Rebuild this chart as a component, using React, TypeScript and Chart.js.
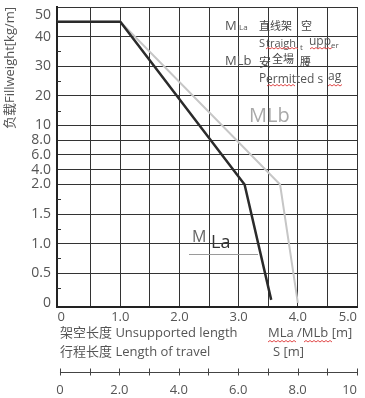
import React, { useEffect, useRef } from 'react';
import { Chart, registerables, LinearScale } from 'chart.js';

// ---------- data ----------
const X_MIN = -0.07;
const X_MAX = 5;
const Y_MIN = -0.07;
const Y_MAX = 50;

const MLA_X = [X_MIN, 1.0, 3.1, 3.55];
const MLA_Y = [45, 45, 2.0, 0.05];
const MLB_X = [X_MIN, 1.0, 3.7, 4.0];
const MLB_Y = [45, 45, 2.0, 0];

const Y_TICKS = [0, 0.5, 1, 1.5, 2, 4, 6, 8, 10, 20, 30, 40, 50];
const Y_LABELS = ['0', '0.5', '1.0', '1.5', '2.0', '4.0', '6.0', '8.0', '10', '20', '30', '40', '50'];
// relative spacing of the tick values along the (segmented) fill-weight axis
const Y_STEPS = [0, 1, 2, 3, 4, 4.5, 5, 5.5, 6, 7, 8, 9, 10];
const Y_MINOR = [35, 25, 15, 1.75, 1.25, 0.75, 0.25];

const X_TICKS = [0, 0.5, 1, 1.5, 2, 2.5, 3, 3.5, 4, 4.5, 5];
const X_LABELS = ['0', '', '1.0', '', '2.0', '', '3.0', '', '4.0', '', '5.0'];

const S_MIN = -0.1;
const S_MAX = 10;
const S_TICKS = [0, 1, 2, 3, 4, 5, 6, 7, 8, 9, 10];
const S_LABELS = ['0', '', '2.0', '', '4.0', '', '6.0', '', '8.0', '', '10'];

// ---------- styles ----------
const FONT = "'Open Sans', 'Noto Sans CJK SC', sans-serif";
const CJK = "'Noto Sans CJK SC', 'Open Sans', sans-serif";
const GRID = '#333333';
const AXIS = '#222222';
const TEXT = '#555555';
const DARK = '#2b2b2b';
const LIGHT = '#c6c6c6';

function toUnit(v: number): number {
  const b = Y_TICKS, s = Y_STEPS;
  let i = 1;
  while (i < b.length - 1 && v > b[i]) i++;
  const t = (v - b[i - 1]) / (b[i] - b[i - 1]);
  return s[i - 1] + t * (s[i] - s[i - 1]);
}
function fromUnit(u: number): number {
  const b = Y_TICKS, s = Y_STEPS;
  let i = 1;
  while (i < s.length - 1 && u > s[i]) i++;
  const t = (u - s[i - 1]) / (s[i] - s[i - 1]);
  return b[i - 1] + t * (b[i] - b[i - 1]);
}

class SegmentedScale extends LinearScale {
  static id = 'segmented';
  static defaults = LinearScale.defaults;
  getPixelForValue(value: any) {
    if (value === null || value === undefined || isNaN(value)) return NaN;
    const u0 = toUnit((this as any).min), u1 = toUnit((this as any).max);
    return (this as any).getPixelForDecimal((toUnit(value) - u0) / (u1 - u0));
  }
  getValueForPixel(pixel: number) {
    const u0 = toUnit((this as any).min), u1 = toUnit((this as any).max);
    return fromUnit(u0 + (this as any).getDecimalForPixel(pixel) * (u1 - u0));
  }
}

Chart.register(...registerables, SegmentedScale as any);

function squiggle(ctx: CanvasRenderingContext2D, x0: number, x1: number, y: number) {
  ctx.save();
  ctx.strokeStyle = '#e04a4a';
  ctx.lineWidth = 1;
  ctx.beginPath();
  ctx.moveTo(x0, y);
  let up = true;
  for (let x = x0; x < x1; x += 2) {
    ctx.lineTo(x + 2, up ? y - 1.5 : y);
    up = !up;
  }
  ctx.stroke();
  ctx.restore();
}

type Note = [string, number, number, number, string, string?];
const NOTES: Note[] = [
  ['M', 225, 30, 13, '#555'],
  ['La', 239, 30, 8, '#555'],
  ['直线架', 259, 30, 11, '#444', CJK],
  ['空', 301, 30, 11, '#444', CJK],
  ['S', 259, 47, 11, '#555'],
  ['traigh', 266, 47, 11, '#555'],
  ['t', 300, 50, 8, '#555'],
  ['upp', 309, 45, 12, '#555'],
  ['er', 331, 48, 8, '#555'],
  ['MLb', 225, 65, 13, '#555'],
  ['安', 259, 67, 12, '#444', CJK],
  ['全場', 272, 63, 11, '#444', CJK],
  ['腰', 300, 66, 11, '#444', CJK],
  ['P', 259, 82, 12, '#555'],
  ['ermitted s', 266, 83, 12, '#555'],
  ['ag', 328, 80, 12, '#555'],
  ['MLb', 249, 122, 20, '#a8a8a8'],
  ['M', 192, 242, 16, '#666'],
  ['La', 211, 248, 18, '#333'],
  ['架空长度 Unsupported length', 60, 337, 13, TEXT],
  ['行程长度 Length of travel', 60, 356, 13, TEXT],
  ['MLa /MLb [m]', 268, 337, 13, TEXT],
  ['S [m]', 273, 356, 13, TEXT],
];

const decor = {
  id: 'decor',
  afterDraw(chart: any) {
    const { ctx, scales, chartArea } = chart;
    const x = scales.x, y = scales.y, s = scales.s;
    ctx.save();
    ctx.strokeStyle = GRID;
    ctx.lineWidth = 1;
    Y_MINOR.forEach((v) => {
      const py = Math.round(y.getPixelForValue(v)) + 0.5;
      ctx.beginPath();
      ctx.moveTo(chartArea.left, py);
      ctx.lineTo(chartArea.left + 4, py);
      ctx.stroke();
    });
    const sy = Math.round(s.top) + 0.5;
    ctx.strokeStyle = '#444';
    ctx.beginPath();
    ctx.moveTo(s.getPixelForValue(S_TICKS[0]), sy);
    ctx.lineTo(s.getPixelForValue(S_TICKS[S_TICKS.length - 1]), sy);
    ctx.stroke();
    S_TICKS.forEach((v) => {
      const px = Math.round(s.getPixelForValue(v)) + 0.5;
      ctx.beginPath();
      ctx.moveTo(px, sy - 4);
      ctx.lineTo(px, sy + 3);
      ctx.stroke();
    });
    ctx.fillStyle = TEXT;
    ctx.textBaseline = 'middle';
    ctx.font = `14px ${FONT}`;
    ctx.textAlign = 'right';
    ctx.fillText(Y_LABELS[Y_LABELS.length - 1], chartArea.left - 6, y.getPixelForValue(Y_TICKS[Y_TICKS.length - 1]) + 8);
    ctx.font = `13px ${FONT}`;
    ctx.fillText(X_LABELS[X_LABELS.length - 1], x.getPixelForValue(X_TICKS[X_TICKS.length - 1]), x.top + 10);
    ctx.fillText(S_LABELS[S_LABELS.length - 1], s.getPixelForValue(S_TICKS[S_TICKS.length - 1]), s.top + 18);
    ctx.textAlign = 'left';
    ctx.textBaseline = 'alphabetic';
    NOTES.forEach(([t, nx, ny, size, color, fam]) => {
      ctx.font = `${size}px ${fam || FONT}`;
      ctx.fillStyle = color;
      ctx.fillText(t, nx, ny);
    });
    ctx.strokeStyle = '#9a9a9a';
    ctx.beginPath();
    ctx.moveTo(189, 254.5);
    ctx.lineTo(258, 254.5);
    ctx.stroke();
    squiggle(ctx, 266, 297, 49);
    squiggle(ctx, 310, 332, 49);
    squiggle(ctx, 267, 294, 86);
    squiggle(ctx, 328, 342, 86);
    squiggle(ctx, 268, 296, 342);
    squiggle(ctx, 304, 332, 342);
    ctx.restore();
  },
};

export default function App() {
  const ref = useRef<HTMLCanvasElement>(null);
  useEffect(() => {
    document.body.style.margin = '0';
    const chart = new Chart(ref.current as HTMLCanvasElement, {
      type: 'line',
      data: {
        datasets: [
          {
            label: 'MLa',
            data: MLA_X.map((vx, i) => ({ x: vx, y: MLA_Y[i] })),
            borderColor: DARK,
            borderWidth: 2.5,
            pointRadius: 0,
            tension: 0,
            xAxisID: 'x',
            yAxisID: 'y',
          },
          {
            label: 'MLb',
            data: MLB_X.map((vx, i) => ({ x: vx, y: MLB_Y[i] })),
            borderColor: LIGHT,
            borderWidth: 2,
            pointRadius: 0,
            tension: 0,
            xAxisID: 'x',
            yAxisID: 'y',
          },
        ],
      },
      options: {
        responsive: false,
        animation: false,
        devicePixelRatio: 1,
        layout: { autoPadding: false, padding: { top: 7, right: 8, left: 0, bottom: 0 } },
        plugins: { legend: { display: false }, tooltip: { enabled: false } },
        scales: {
          x: {
            type: 'linear',
            position: 'bottom',
            min: X_MIN,
            max: X_MAX,
            afterBuildTicks: (sc: any) => { sc.ticks = X_TICKS.map((v) => ({ value: v })); },
            afterFit: (sc: any) => { sc.height = 65; sc.paddingLeft = 0; sc.paddingRight = 0; },
            grid: {
              color: (c: any) => (c.tick && c.tick.value === 0 ? 'rgba(0,0,0,0)' : GRID),
              lineWidth: 1,
              drawTicks: false,
            },
            border: { display: true, color: AXIS, width: 2 },
            ticks: {
              autoSkip: false,
              maxRotation: 0,
              padding: 2,
              color: TEXT,
              font: { family: FONT, size: 13 },
              callback: (_v: any, i: number) => (i === X_LABELS.length - 1 ? '' : X_LABELS[i]),
            },
          },
          s: {
            type: 'linear',
            position: 'bottom',
            weight: 1,
            min: S_MIN,
            max: S_MAX,
            afterBuildTicks: (sc: any) => { sc.ticks = S_TICKS.map((v) => ({ value: v })); },
            afterFit: (sc: any) => { sc.height = 26; sc.paddingLeft = 0; sc.paddingRight = 0; },
            grid: { drawOnChartArea: false, drawTicks: false },
            border: { display: false },
            ticks: {
              autoSkip: false,
              maxRotation: 0,
              padding: 10,
              color: TEXT,
              font: { family: FONT, size: 13 },
              callback: (_v: any, i: number) => (i === S_LABELS.length - 1 ? '' : S_LABELS[i]),
            },
          },
          y: {
            type: 'segmented' as any,
            min: Y_MIN,
            max: Y_MAX,
            afterBuildTicks: (sc: any) => { sc.ticks = Y_TICKS.map((v) => ({ value: v })); },
            afterFit: (sc: any) => { sc.width = 57; sc.paddingTop = 0; sc.paddingBottom = 0; },
            grid: {
              color: (c: any) => (c.tick && c.tick.value === 0 ? 'rgba(0,0,0,0)' : GRID),
              lineWidth: 1,
              drawTicks: false,
            },
            border: { display: true, color: AXIS, width: 2 },
            ticks: {
              autoSkip: false,
              padding: 6,
              color: TEXT,
              font: { family: FONT, size: 14 },
              callback: (_v: any, i: number) => (i === Y_LABELS.length - 1 ? '' : Y_LABELS[i]),
            },
            title: {
              display: true,
              text: '负载Fillweight[kg/m]',
              align: 'end',
              color: TEXT,
              font: { family: FONT, size: 13 },
              padding: { top: 2, bottom: 0 },
            },
          },
        },
      } as any,
      plugins: [decor],
    });
    return () => chart.destroy();
  }, []);
  return <canvas ref={ref} width={365} height={398} style={{ display: 'block' }} />;
}
